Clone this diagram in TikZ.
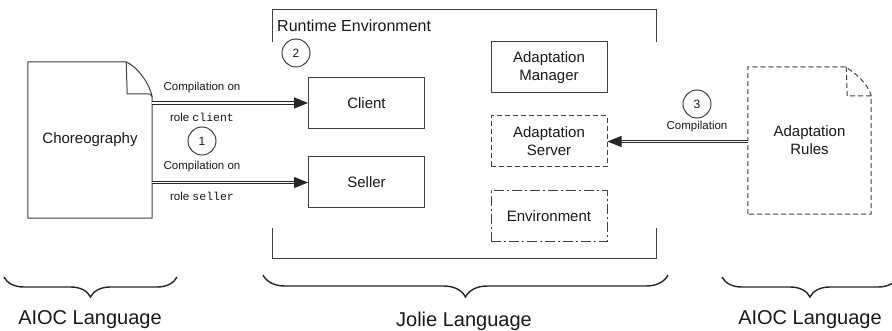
\documentclass[tikz,border=0pt]{standalone}
\usepackage{fontspec}
\setmainfont{Liberation Sans}
\setmonofont{Liberation Mono}
\usetikzlibrary{arrows.meta,decorations.pathreplacing}
\tikzset{
 ln/.style={draw=black!75, line width=1pt},
 box/.style={ln, minimum width=116pt, minimum height=51pt, align=center, font=\fontsize{15}{18}\selectfont, inner sep=0pt, text=black!90},
 dashbox/.style={box, dash pattern=on 5pt off 3pt},
 dashdotbox/.style={box, dash pattern=on 10pt off 3pt on 2pt off 3pt},
 numc/.style={circle, ln, minimum size=28pt, inner sep=0pt, font=\fontsize{12}{14}\selectfont, text=black!90},
 lbl/.style={font=\fontsize{11.5}{14}\selectfont, inner sep=0pt, text=black!90},
 dbl/.style={double=white, draw=black!85, line width=1pt, double distance=1.6pt, -{Triangle[length=14pt,width=11pt]}},
 brc/.style={decorate, decoration={brace, mirror, amplitude=#1}, line width=1.4pt, draw=black!85},
 big/.style={font=\fontsize{20}{24}\selectfont, text=black!90},
 doc/.style={inner sep=0pt, align=center, font=\fontsize{15}{18}\selectfont, text=black!90},
}
\begin{document}
\begin{tikzpicture}[x=1pt,y=-1pt]
\useasboundingbox (0,0) rectangle (892,331);

% runtime environment frame
\draw[ln] (272,42) -- (272,10) -- (656,10) -- (656,42);
\draw[ln] (272,228) -- (272,259) -- (656,259) -- (656,228);
\node[anchor=west, inner sep=0pt, font=\fontsize{16}{19}\selectfont, text=black!90] (rt) at (277,26) {Runtime Environment};

% choreography document
\node[doc, minimum width=124pt, minimum height=156pt] (chor) at (90,140) {Choreography};
\draw[ln, line join=round] (chor.south west) -- (chor.north west) -- ([xshift=-26pt]chor.north east)
  .. controls +(12,6) and +(-3,-14) .. ([yshift=-35pt]chor.north east) -- (chor.south east) -- cycle;
\draw[ln, line join=round] ([xshift=-26pt]chor.north east) -- ([xshift=-25pt,yshift=-32pt]chor.north east)
  -- ([xshift=-5pt,yshift=-32pt]chor.north east) .. controls +(3,0) .. ([yshift=-35pt]chor.north east);

% adaptation rules document
\node[doc, minimum width=123pt, minimum height=147pt] (rules) at (809.5,140.5) {Adaptation\\Rules};
\draw[ln, dash pattern=on 5pt off 3pt] (rules.south west) -- (rules.north west) -- ([xshift=-26pt]rules.north east)
  .. controls +(10,6) and +(-3,-12) .. ([yshift=-29pt]rules.north east) -- (rules.south east) -- cycle;
\draw[ln, dash pattern=on 5pt off 3pt] ([xshift=-25pt]rules.north east) -- ([xshift=-24pt,yshift=-29pt]rules.north east)
  -- ([yshift=-29pt]rules.north east);

% boxes
\node[box] (client) at (366.5,103) {Client};
\node[box] (seller) at (366.5,182.5) {Seller};
\node[box] (manager) at (549,67.5) {Adaptation\\Manager};
\node[dashbox] (server) at (549,141.5) {Adaptation\\Server};
\node[dashdotbox] (env) at (549,216.5) {Environment};

% arrows
\draw[dbl] (chor.east |- client.west) -- (client.west);
\draw[dbl] (chor.east |- seller.west) -- (seller.west);
\draw[dbl] (rules.west |- server.east) -- (server.east);

% labels
\node[lbl] (l1a) at (202,88) {Compilation on};
\node[lbl] (l1b) at (202,117) {role \texttt{client}};
\node[numc] (n1) at (202,141) {1};
\node[lbl] (l2a) at (202,167) {Compilation on};
\node[lbl] (l2b) at (202,196) {role \texttt{seller}};
\node[numc] (n2) at (296,53) {2};
\node[numc] (n3) at (697,104) {3};
\node[lbl] (l3) at (697,127) {Compilation};

% braces
\draw[brc=20pt] (4,277) -- (177,277);
\draw[brc=22pt] (263,275) -- (668,275);
\draw[brc=20pt] (722,277) -- (898,277);
\node[big] (aioc1) at (90,320) {AIOC Language};
\node[big] (jolie) at (464,321) {Jolie Language};
\node[big] (aioc2) at (810,320) {AIOC Language};
\end{tikzpicture}
\end{document}
